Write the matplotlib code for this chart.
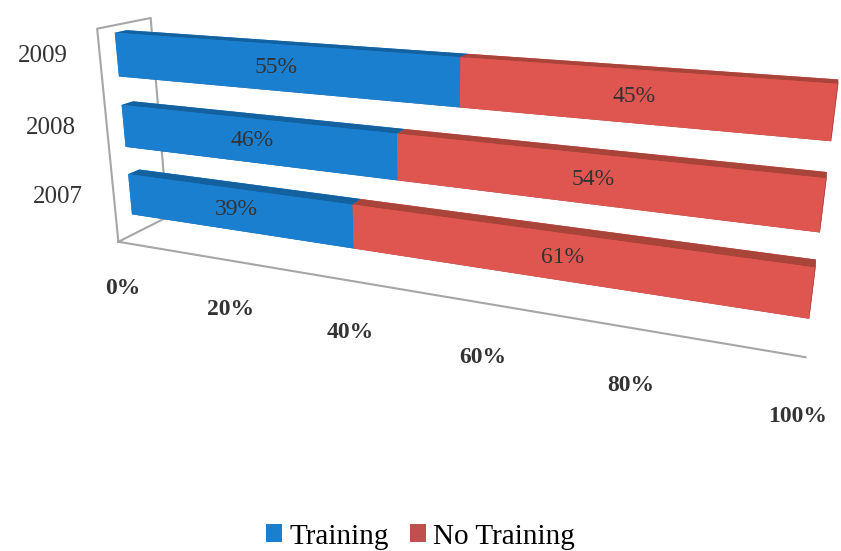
import numpy as np
import matplotlib.pyplot as plt
from matplotlib.patches import Patch

years = ["2007", "2008", "2009"]
training = [39, 46, 55]
no_training = [61, 54, 45]
tick_values = [0, 20, 40, 60, 80, 100]
series_names = ["Training", "No Training"]

BLUE = "#1b7fcf"
RED = "#df5550"
# per-face colours for bar3d: bottom, top, front, back, left, right
blue_faces = ["#0f5a99", "#13619f", BLUE, BLUE, "#2a8fe2", "#135d9a"]
red_faces = ["#9c3a33", "#a9443b", RED, RED, "#e36a64", "#9a3a32"]

SERIF = ["Liberation Serif", "DejaVu Serif"]
TXT = "#333333"

fig = plt.figure(figsize=(8.41, 5.51), dpi=100)
ax = fig.add_axes([0.004, 0.19, 1.0, 1.0], projection="3d")
ax.set_proj_type("persp", focal_length=0.32)
ax.view_init(elev=16.5, azim=-68, roll=0)
ax.set_box_aspect((9.8, 1.2, 3.25), zoom=1.36)
ax.set_xlim(0, 100)
ax.set_ylim(0, 1)
ax.set_zlim(0, 3)
ax.set_axis_off()

# bar geometry
z0 = np.arange(len(years)) + 0.3
dz = 0.6
y0, dy = 0.3, 0.22

xs = np.concatenate([np.zeros(len(years)), training])
widths = np.concatenate([training, no_training])
zs = np.concatenate([z0, z0])
colors = blue_faces * len(years) + red_faces * len(years)
bars = ax.bar3d(xs, np.full(len(xs), y0), zs, widths, np.full(len(xs), dy),
                np.full(len(xs), dz), color=colors, shade=False,
                edgecolor="none")
bars.set_clip_on(False)

# wall and floor outlines
grey = "#a6a6a6"
lines = ax.plot([0, 0, 0, 0, 0], [0, 0, 1, 1, 0], [0, 3, 3, 0, 0],
                color=grey, lw=1.5)
lines += ax.plot([0, 100], [0, 0], [0, 0], color=grey, lw=1.5)
for ln in lines:
    ln.set_clip_on(False)

# segment labels
for i in range(len(years)):
    ax.text(training[i] / 2, y0, z0[i] + dz / 2, f"{training[i]}%",
            ha="center", va="center", fontsize=17, color=TXT,
            family=SERIF, zorder=100, clip_on=False)
    ax.text(training[i] + no_training[i] / 2, y0, z0[i] + dz / 2,
            f"{no_training[i]}%", ha="center", va="center", fontsize=17,
            color=TXT, family=SERIF, zorder=100, clip_on=False)
    ax.text(-6, 0, z0[i] + dz / 2, years[i], ha="right", va="center",
            fontsize=18, color=TXT, family=SERIF, zorder=100, clip_on=False)

for v in tick_values:
    ax.text(v, 0, -0.72, f"{v}%", ha="center", va="center", fontsize=17,
            color=TXT, family=SERIF, fontweight="bold", zorder=100,
            clip_on=False)

handles = [Patch(facecolor=BLUE), Patch(facecolor="#c0504d")]
fig.legend(handles, series_names, loc="lower center",
           bbox_to_anchor=(0.5, -0.045), ncol=2, frameon=False,
           handlelength=0.55, handleheight=0.55, handletextpad=0.25,
           columnspacing=0.7, prop={"family": SERIF, "size": 21})

fig.savefig("out.png", dpi=100)
